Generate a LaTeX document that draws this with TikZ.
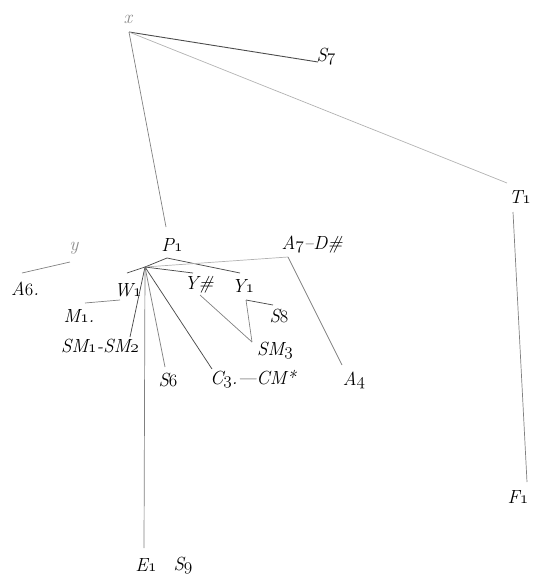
\documentclass[tikz,border=0pt]{standalone}
\providecommand\legacyoldstylenums{\oldstylenums}
\newcommand\os[1]{{\legacyoldstylenums{#1}}}
\begin{document}
\begin{tikzpicture}[x=1pt,y=-1pt,
  lbl/.style={inner sep=0pt,font=\fontsize{19}{21}\selectfont\itshape,text=black},
  glbl/.style={lbl,text=black!45},
  dk/.style={draw=black!70,line width=0.75pt},
  md/.style={draw=black!50,line width=0.7pt},
  lt/.style={draw=black!30,line width=0.7pt}]
\useasboundingbox (0,0) rectangle (535,574);
% labels
\node[glbl] (x) at (128,19) {x};
\node[lbl] (S7) at (326,56) {S\os{7}};
\node[lbl] (T1) at (520,197) {T\os{1}};
\node[lbl] (F1) at (518,497) {F\os{1}};
\node[lbl] (P1) at (172,245) {P\os{1}};
\node[glbl] (y) at (74,248) {y};
\node[lbl] (A6) at (25,289) {A\os{6}.};
\node[lbl] (A7) at (312,245) {A\os{7}--D\#};
\node[lbl] (W1) at (128,290) {W\os{1}};
\node[lbl] (Yh) at (199,285) {Y\#};
\node[lbl] (Y1) at (243,286) {Y\os{1}};
\node[lbl] (M1) at (79,316) {M\os{1}.};
\node[lbl] (S8) at (279,316) {S\os{8}};
\node[lbl] (SM) at (100,346) {SM\os{1}-SM\os{2}};
\node[lbl] (SM3) at (275,350) {SM\os{3}};
\node[lbl] (S6) at (168,380) {S\os{6}};
\node[lbl] (C3) at (253,379) {C\os{3}.---CM*};
\node[lbl] (A4) at (354,380) {A\os{4}};
\node[lbl] (E1) at (146,565) {E\os{1}};
\node[lbl] (S9) at (183,565) {S\os{9}};
% connection points
\coordinate (xr) at (129,32);
\coordinate (s7e) at (318,62);
\coordinate (t1t) at (507,183);
\coordinate (p1t) at (166,227);
\coordinate (pb) at (167,258);
\coordinate (hub) at (145,267);
\coordinate (y1t) at (240,273);
\coordinate (a7c) at (288,257);
\coordinate (a4t) at (342,365);
\coordinate (w1t) at (127,273);
\coordinate (yht) at (193,273);
\coordinate (smt) at (130,337);
\coordinate (s6t) at (165,367);
\coordinate (c3t) at (212,369);
\coordinate (e1t) at (144,548);
\coordinate (yb) at (70,262);
\coordinate (a6t) at (22,273);
\coordinate (w1b) at (120,300);
\coordinate (m1t) at (85,303);
\coordinate (yhb) at (200,295);
\coordinate (sm3t) at (252,342);
\coordinate (y1b) at (246,300);
\coordinate (s8t) at (273,305);
\coordinate (t1b) at (513,212);
\coordinate (f1t) at (527,482);
% connectors
\draw[dk,line width=0.9pt] (xr) -- (s7e);
\draw[lt] (xr) -- (t1t);
\draw[md] (xr) -- (p1t);
\draw[md] (t1b) -- (f1t);
\draw[dk] (hub) -- (pb) -- (y1t);
\draw[lt] (hub) -- (a7c);
\draw[md] (a7c) -- (a4t);
\draw[dk] (hub) -- (w1t);
\draw[dk] (hub) -- (yht);
\draw[dk] (hub) -- (smt);
\draw[md] (hub) -- (s6t);
\draw[dk] (hub) -- (c3t);
\draw[md] (hub) -- (e1t);
\draw[md] (yb) -- (a6t);
\draw[md] (w1b) -- (m1t);
\draw[md] (yhb) -- (sm3t);
\draw[md] (y1b) -- (sm3t);
\draw[dk] (y1b) -- (s8t);
\end{tikzpicture}
\end{document}
